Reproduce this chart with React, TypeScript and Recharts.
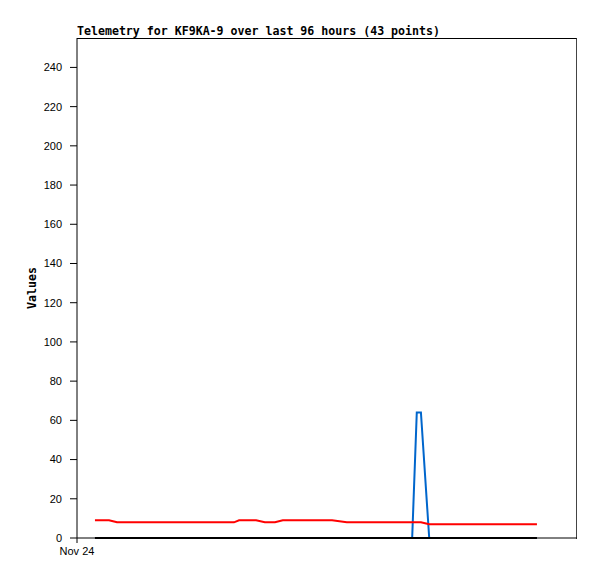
import { LineChart, Line, XAxis, YAxis } from "recharts";

// hours since Nov 24 00:00
const hours = [
  3.9, 6.1, 6.95, 8.7, 10.9, 13.2, 15.4, 17.8, 20.0, 22.4, 24.5, 26.9, 29.1,
  31.5, 34.1, 35.2, 37.1, 38.9, 40.8, 43.0, 44.7, 46.9, 49.1, 51.3, 53.2, 55.4,
  58.6, 60.8, 63.2, 65.4, 67.8, 70.2, 72.8, 73.8, 74.7, 76.5, 79.9, 83.2, 86.7,
  89.9, 93.2, 96.4, 99.9,
];
const redValues = [
  9, 9, 9, 8, 8, 8, 8, 8, 8, 8, 8, 8, 8, 8, 8, 9, 9, 9, 8, 8, 9, 9, 9, 9, 9, 9,
  8, 8, 8, 8, 8, 8, 8, 8, 8, 7, 7, 7, 7, 7, 7, 7, 7,
];
const blueValues = [
  0, 0, 0, 0, 0, 0, 0, 0, 0, 0, 0, 0, 0, 0, 0, 0, 0, 0, 0, 0, 0, 0, 0, 0, 0, 0,
  0, 0, 0, 0, 0, 0, 0, 64, 64, 0, 0, 0, 0, 0, 0, 0, 0,
];
const blackValues = hours.map(() => 0);
const yTicks = [0, 20, 40, 60, 80, 100, 120, 140, 160, 180, 200, 220, 240];

const data = hours.map((t, i) => ({
  t,
  red: redValues[i],
  blue: blueValues[i],
  black: blackValues[i],
}));

const mono = "'DejaVu Sans Mono', monospace";
const tickFont = { fontSize: 11, fill: "#000", fontFamily: "'Liberation Sans', Arial, sans-serif" };

export default function App() {
  return (
    <div style={{ position: "absolute", left: 0, top: 0, width: 597, height: 579, background: "#fff" }}>
      <div
        style={{
          position: "absolute",
          left: 77,
          top: 24,
          fontFamily: mono,
          fontWeight: "bold",
          fontSize: 11.6,
          lineHeight: "14px",
          whiteSpace: "nowrap",
        }}
      >
        Telemetry for KF9KA-9 over last 96 hours (43 points)
      </div>
      <div
        style={{
          position: "absolute",
          left: 32,
          top: 288,
          transform: "translate(-50%, -50%) rotate(-90deg)",
          fontFamily: mono,
          fontWeight: "bold",
          fontSize: 11.6,
          lineHeight: "14px",
          whiteSpace: "nowrap",
        }}
      >
        Values
      </div>
      {/* plot frame: top and right edges */}
      <div
        style={{
          position: "absolute",
          left: 77,
          top: 38,
          width: 499,
          height: 500,
          borderTop: "1px solid #000",
          borderRight: "1px solid #444",
        }}
      />
      <LineChart
        width={597}
        height={579}
        data={data}
        margin={{ top: 38, right: 20, bottom: 0, left: 0 }}
        style={{ position: "absolute", left: 0, top: 0 }}
      >
        <XAxis
          dataKey="t"
          type="number"
          domain={[0, 108.6]}
          ticks={[0]}
          tickFormatter={() => "Nov 24"}
          tick={tickFont}
          tickSize={5}
          tickMargin={4}
          height={41}
          axisLine={{ stroke: "#000" }}
          tickLine={{ stroke: "#000" }}
        />
        <YAxis
          type="number"
          domain={[0, 255]}
          ticks={yTicks}
          interval={0}
          width={77}
          tick={tickFont}
          tickSize={7}
          tickMargin={8}
          axisLine={{ stroke: "#000" }}
          tickLine={{ stroke: "#000" }}
        />
        <Line
          dataKey="blue"
          type="linear"
          stroke="#0066cc"
          strokeWidth={2}
          dot={false}
          isAnimationActive={false}
        />
        <Line
          dataKey="red"
          type="linear"
          stroke="#ff0000"
          strokeWidth={2}
          dot={false}
          isAnimationActive={false}
        />
        <Line
          dataKey="black"
          type="linear"
          stroke="#000"
          strokeWidth={2}
          dot={false}
          isAnimationActive={false}
        />
      </LineChart>
    </div>
  );
}
